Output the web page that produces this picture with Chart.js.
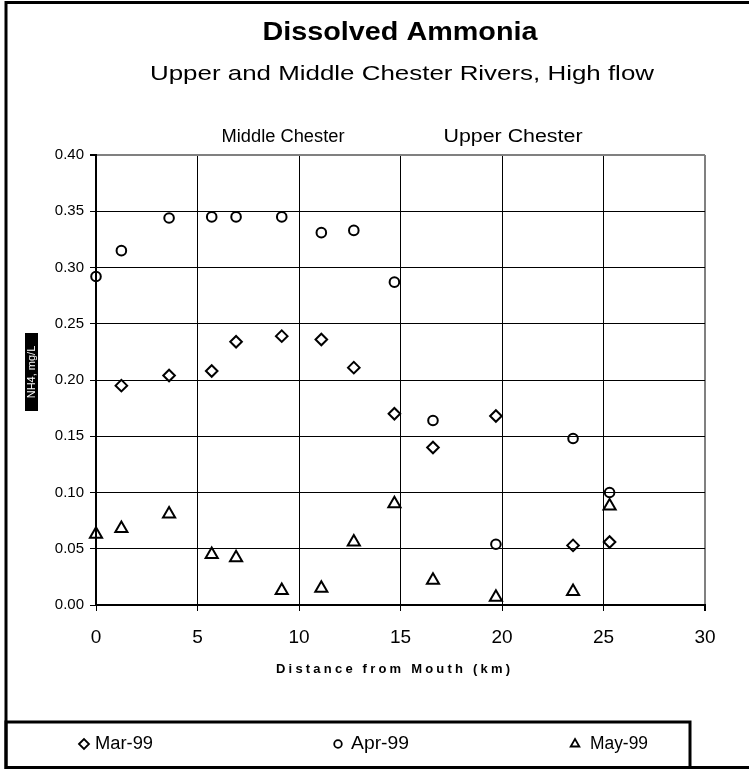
<!DOCTYPE html>
<html><head><meta charset="utf-8">
<script src="https://cdn.jsdelivr.net/npm/chart.js@4.4.1/dist/chart.umd.min.js"></script>
<style>html,body{margin:0;padding:0;background:#fff;overflow:hidden}#wrap{width:749px;height:769px;position:relative}canvas{display:block}</style>
</head><body><div id="wrap"><canvas id="c" width="749" height="769"></canvas></div>
<script>
// ---- data ----
const distanceKm = [0, 1.25, 3.6, 5.7, 6.9, 9.15, 11.1, 12.7, 14.7, 16.6, 19.7, 23.5, 25.3];
const mar99 = [null, 0.195, 0.204, 0.208, 0.234, 0.239, 0.236, 0.211, 0.170, 0.140, 0.168, 0.053, 0.056];
const apr99 = [0.292, 0.315, 0.344, 0.345, 0.345, 0.345, 0.331, 0.333, 0.287, 0.164, 0.054, 0.148, 0.100];
const may99 = [0.063, 0.068, 0.081, 0.045, 0.042, 0.013, 0.015, 0.056, 0.090, 0.022, 0.007, 0.012, 0.088];
const seriesNames = ['Mar-99', 'Apr-99', 'May-99'];
const xTickValues = [0, 5, 10, 15, 20, 25, 30];
const yTickValues = [0, 0.05, 0.10, 0.15, 0.20, 0.25, 0.30, 0.35, 0.40];
const titleText = 'Dissolved Ammonia';
const subtitleText = 'Upper and Middle Chester Rivers, High flow';
const sectionLabels = ['Middle Chester', 'Upper Chester'];
const xAxisTitle = 'Distance from Mouth (km)';
const yAxisTitle = 'NH4, mg/L';

const FONT = '"Liberation Sans", Arial, sans-serif';
const pts = arr => distanceKm.map((x, i) => ({x, y: arr[i]})).filter(p => p.y !== null);

function fitText(ctx, text, cx, cy, font, targetW) {
  ctx.save();
  ctx.font = font;
  const w = ctx.measureText(text).width;
  const s = targetW / w;
  ctx.translate(cx, cy);
  ctx.scale(s, 1);
  ctx.textAlign = 'center';
  ctx.textBaseline = 'middle';
  ctx.fillStyle = '#000';
  ctx.fillText(text, 0, 0);
  ctx.restore();
}
function spacedText(ctx, text, cx, cy, font, targetW) {
  ctx.save();
  ctx.font = font;
  const w = ctx.measureText(text).width;
  const sp = (targetW - w) / (text.length - 1);
  ctx.textBaseline = 'middle';
  ctx.fillStyle = '#000';
  let x = cx - targetW / 2;
  for (const ch of text) {
    ctx.fillText(ch, x, cy);
    x += ctx.measureText(ch).width + sp;
  }
  ctx.restore();
}

const decor = {
  id: 'decor',
  afterDraw(chart) {
    const ctx = chart.ctx;
    // outer frame
    ctx.save();
    ctx.strokeStyle = '#000';
    ctx.lineWidth = 3;
    ctx.beginPath();
    ctx.moveTo(6, 769); ctx.lineTo(6, 2.5); ctx.lineTo(749, 2.5);
    ctx.stroke();
    ctx.beginPath();
    ctx.moveTo(690, 767.5); ctx.lineTo(749, 767.5);
    ctx.stroke();
    // legend box
    ctx.strokeRect(6, 722, 684, 45.5);
    ctx.restore();

    fitText(ctx, titleText, 400, 33, 'bold 25px ' + FONT, 275);
    fitText(ctx, subtitleText, 402, 74, '21px ' + FONT, 504);
    fitText(ctx, sectionLabels[0], 283, 137, '18px ' + FONT, 123);
    fitText(ctx, sectionLabels[1], 513, 137, '18px ' + FONT, 139);
    spacedText(ctx, xAxisTitle, 393, 669, 'bold 13px ' + FONT, 234);

    // y axis title box
    ctx.save();
    ctx.fillStyle = '#000';
    ctx.fillRect(25, 333, 13, 78);
    ctx.translate(31.5, 372);
    ctx.rotate(-Math.PI / 2);
    ctx.font = '11px ' + FONT;
    ctx.fillStyle = '#fff';
    ctx.textAlign = 'center';
    ctx.textBaseline = 'middle';
    ctx.fillText(yAxisTitle, 0, 0);
    ctx.restore();

    // legend entries
    const legendPos = [[84, 124], [338, 380], [575, 619]];
    chart.data.datasets.forEach((ds, i) => {
      const [mx, tx] = legendPos[i];
      ctx.save();
      ctx.strokeStyle = '#000';
      ctx.fillStyle = '#fff';
      ctx.lineWidth = 1.8;
      Chart.helpers.drawPoint(ctx, {pointStyle: ds.pointStyle, radius: ds.pointStyle === 'circle' ? 3.8 : 5, borderWidth: 1.8}, mx, 744);
      ctx.restore();
      fitText(ctx, ds.label, tx, 744, '18px ' + FONT, 58);
    });
  }
};

const mk = (label, data, style, r) => ({
  label, data: pts(data), pointStyle: style, pointRadius: r, pointHoverRadius: r,
  borderColor: '#000', backgroundColor: 'rgba(255,255,255,0)', pointBorderWidth: 2,
  showLine: false, clip: false
});

new Chart(document.getElementById('c'), {
  type: 'scatter',
  data: {
    datasets: [
      mk(seriesNames[0], mar99, 'rectRot', 5.8),
      mk(seriesNames[1], apr99, 'circle', 4.8),
      mk(seriesNames[2], may99, 'triangle', 7)
    ]
  },
  options: {
    responsive: false,
    animation: false,
    devicePixelRatio: 1,
    layout: {padding: {top: 155, left: 0, right: 44, bottom: 124}},
    plugins: {legend: {display: false}, tooltip: {enabled: false}, title: {display: false}},
    scales: {
      x: {
        type: 'linear', min: 0, max: 30,
        afterBuildTicks: s => { s.ticks = xTickValues.map(v => ({value: v})); },
        afterFit: s => { s.height = 40; },
        grid: {
          color: c => c.tick && c.tick.value === 30 ? '#808080' : '#000',
          lineWidth: c => c.tick && c.tick.value === 30 ? 2 : 1,
          tickColor: '#000', tickLength: 6, drawTicks: true
        },
        border: {color: '#000', width: 2},
        ticks: {color: '#000', font: {family: FONT, size: 19}, padding: 15, maxRotation: 0}
      },
      y: {
        type: 'linear', min: 0, max: 0.4,
        afterBuildTicks: s => { s.ticks = yTickValues.map(v => ({value: v})); },
        afterFit: s => { s.width = 96; },
        grid: {
          color: c => c.tick && Math.abs(c.tick.value - 0.4) < 1e-9 ? '#808080' : '#000',
          lineWidth: c => c.tick && Math.abs(c.tick.value - 0.4) < 1e-9 ? 2 : 1,
          tickColor: '#000', tickLength: 6, drawTicks: true
        },
        border: {color: '#000', width: 2},
        ticks: {color: '#000', font: {family: FONT, size: 15}, padding: 6, callback: v => Number(v).toFixed(2)}
      }
    }
  },
  plugins: [decor]
});
</script>
</body></html>
